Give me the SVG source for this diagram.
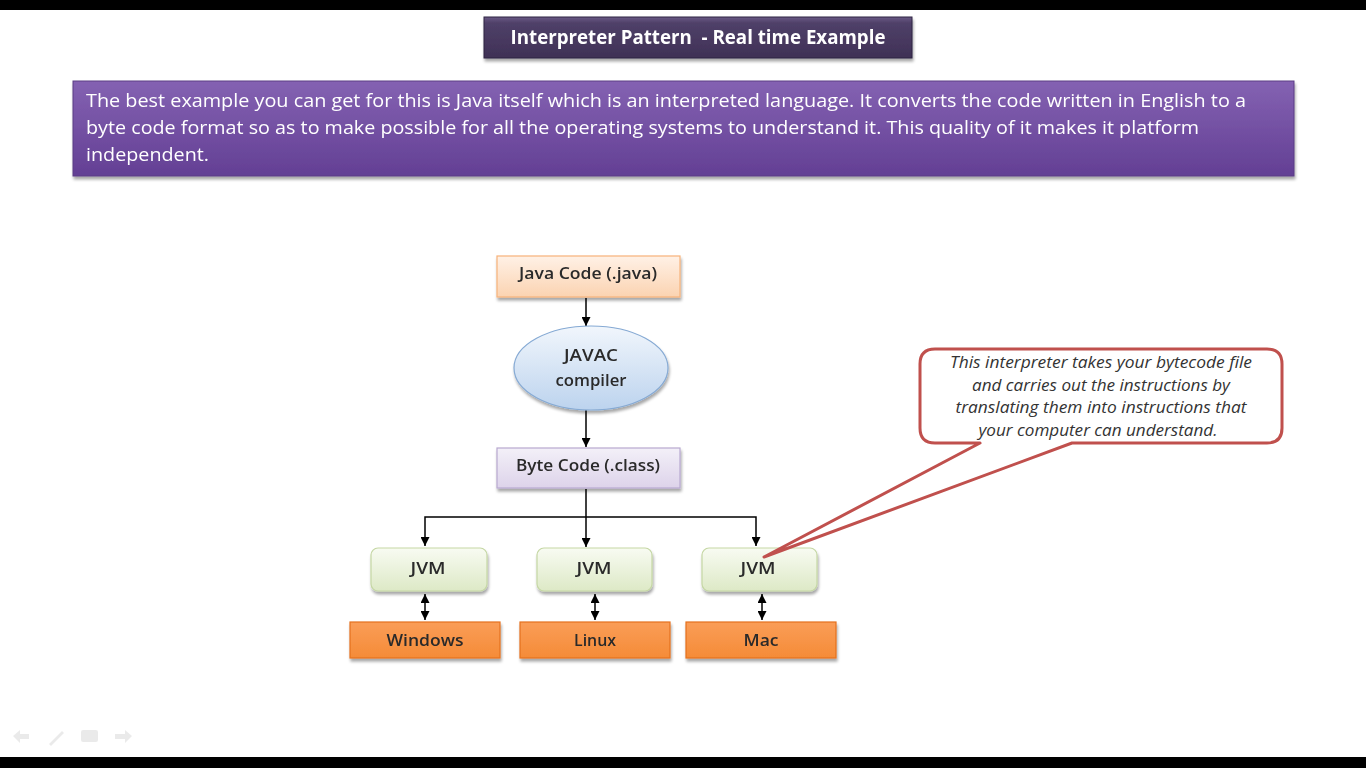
<svg xmlns="http://www.w3.org/2000/svg" width="1366" height="768" viewBox="0 0 1366 768">
<defs>
<linearGradient id="gTitle" x1="0" y1="0" x2="0" y2="1"><stop offset="0" stop-color="#6a5a86"/><stop offset="0.15" stop-color="#4f4068"/><stop offset="1" stop-color="#3f3156"/></linearGradient>
<linearGradient id="gPara" x1="0" y1="0" x2="0" y2="1"><stop offset="0" stop-color="#8462b2"/><stop offset="1" stop-color="#633f94"/></linearGradient>
<linearGradient id="gPeach" x1="0" y1="0" x2="0" y2="1"><stop offset="0" stop-color="#fff1e6"/><stop offset="1" stop-color="#fbd3b1"/></linearGradient>
<linearGradient id="gLav" x1="0" y1="0" x2="0" y2="1"><stop offset="0" stop-color="#f3f0f8"/><stop offset="1" stop-color="#ddd3ea"/></linearGradient>
<linearGradient id="gBlue" x1="0" y1="0" x2="0" y2="1"><stop offset="0" stop-color="#f1f6fc"/><stop offset="1" stop-color="#bcd3ee"/></linearGradient>
<linearGradient id="gGreen" x1="0" y1="0" x2="0" y2="1"><stop offset="0" stop-color="#f8fbf2"/><stop offset="1" stop-color="#dde9c6"/></linearGradient>
<linearGradient id="gOrange" x1="0" y1="0" x2="0" y2="1"><stop offset="0" stop-color="#fa9d58"/><stop offset="1" stop-color="#f58b37"/></linearGradient>
<filter id="sh" x="-10%" y="-20%" width="120%" height="150%"><feGaussianBlur in="SourceAlpha" stdDeviation="1.6"/><feOffset dx="1" dy="2.5"/><feComponentTransfer><feFuncA type="linear" slope="0.35"/></feComponentTransfer><feMerge><feMergeNode/><feMergeNode in="SourceGraphic"/></feMerge></filter>
<marker id="ah" viewBox="0 0 10 10" refX="10" refY="5" markerWidth="9" markerHeight="9" markerUnits="userSpaceOnUse" orient="auto-start-reverse"><path d="M0,0 L10,5 L0,10 z" fill="#000"/></marker>
</defs>
<style>
.box{font-family:"Open Sans","Noto Sans",sans-serif;font-weight:600;font-size:16px;fill:#2a2a2a;text-anchor:middle}
.con{stroke:#000;stroke-width:1.5;fill:none}
.call{font-family:"Open Sans","Noto Sans",sans-serif;font-style:italic;font-size:16px;fill:#333;text-anchor:middle}
.para{font-family:"Open Sans","Noto Sans",sans-serif;font-size:19px;fill:#fff}
</style>
<rect width="1366" height="768" fill="#fff"/>
<rect x="0" y="0" width="1366" height="10" fill="#000"/>
<rect x="0" y="757" width="1366" height="11" fill="#000"/>

<g id="title" filter="url(#sh)">
<rect x="484" y="17" width="428" height="41" fill="url(#gTitle)" stroke="#2e2440" stroke-width="1"/>
<text x="698" y="44" font-family="'Open Sans','Noto Sans',sans-serif" font-weight="700" font-size="19" fill="#fff" text-anchor="middle" textLength="375" lengthAdjust="spacingAndGlyphs" xml:space="preserve">Interpreter Pattern  - Real time Example</text>
</g>

<g id="description" filter="url(#sh)">
<rect x="73" y="81" width="1221" height="95" fill="url(#gPara)" stroke="#5a3d84" stroke-width="1"/>
<text class="para" x="86" y="107" textLength="1160" lengthAdjust="spacingAndGlyphs">The best example you can get for this is Java itself which is an interpreted language. It converts the code written in English to a</text>
<text class="para" x="86" y="134" textLength="1113" lengthAdjust="spacingAndGlyphs">byte code format so as to make possible for all the operating systems to understand it. This quality of it makes it platform</text>
<text class="para" x="86" y="161" textLength="123" lengthAdjust="spacingAndGlyphs">independent.</text>
</g>

<g id="connectors">
<line class="con" x1="586" y1="298" x2="586" y2="326" marker-end="url(#ah)"/>
<line class="con" x1="586" y1="410" x2="586" y2="447" marker-end="url(#ah)"/>
<line class="con" x1="586" y1="489" x2="586" y2="547" marker-end="url(#ah)"/>
<polyline class="con" points="425,546 425,517 756,517 756,546" marker-start="url(#ah)" marker-end="url(#ah)"/>
<line class="con" x1="425" y1="594" x2="425" y2="620" marker-start="url(#ah)" marker-end="url(#ah)"/>
<line class="con" x1="595" y1="594" x2="595" y2="620" marker-start="url(#ah)" marker-end="url(#ah)"/>
<line class="con" x1="762" y1="594" x2="762" y2="620" marker-start="url(#ah)" marker-end="url(#ah)"/>
</g>

<g id="java-code" filter="url(#sh)">
<rect x="497" y="256" width="183" height="41" fill="url(#gPeach)" stroke="#f7b27a" stroke-width="1.2"/>
<text class="box" x="588" y="279" textLength="138" lengthAdjust="spacingAndGlyphs">Java Code (.java)</text>
</g>

<g id="javac" filter="url(#sh)">
<ellipse cx="591" cy="368" rx="77" ry="42" fill="url(#gBlue)" stroke="#86aad4" stroke-width="1.2"/>
<text class="box" x="591" y="361" textLength="54" lengthAdjust="spacingAndGlyphs">JAVAC</text>
<text class="box" x="591" y="386" textLength="71" lengthAdjust="spacingAndGlyphs">compiler</text>
</g>

<g id="byte-code" filter="url(#sh)">
<rect x="497" y="448" width="183" height="40" fill="url(#gLav)" stroke="#b8a8d0" stroke-width="1.2"/>
<text class="box" x="588" y="471" textLength="144" lengthAdjust="spacingAndGlyphs">Byte Code (.class)</text>
</g>

<g id="jvm-windows" filter="url(#sh)">
<rect x="371" y="548" width="116" height="43" rx="7" fill="url(#gGreen)" stroke="#c5d7a4" stroke-width="1.2"/>
<text class="box" x="428" y="574" textLength="35" lengthAdjust="spacingAndGlyphs">JVM</text>
</g>
<g id="jvm-linux" filter="url(#sh)">
<rect x="537" y="548" width="115" height="43" rx="7" fill="url(#gGreen)" stroke="#c5d7a4" stroke-width="1.2"/>
<text class="box" x="594" y="574" textLength="35" lengthAdjust="spacingAndGlyphs">JVM</text>
</g>
<g id="jvm-mac" filter="url(#sh)">
<rect x="702" y="548" width="115" height="43" rx="7" fill="url(#gGreen)" stroke="#c5d7a4" stroke-width="1.2"/>
<text class="box" x="758" y="574" textLength="35" lengthAdjust="spacingAndGlyphs">JVM</text>
</g>

<g id="windows" filter="url(#sh)">
<rect x="350" y="622" width="150" height="36" fill="url(#gOrange)" stroke="#e5711d" stroke-width="1.2"/>
<text class="box" x="425" y="646" textLength="77" lengthAdjust="spacingAndGlyphs">Windows</text>
</g>
<g id="linux" filter="url(#sh)">
<rect x="520" y="622" width="150" height="36" fill="url(#gOrange)" stroke="#e5711d" stroke-width="1.2"/>
<text class="box" x="595" y="646" textLength="42" lengthAdjust="spacingAndGlyphs">Linux</text>
</g>
<g id="mac" filter="url(#sh)">
<rect x="686" y="622" width="150" height="36" fill="url(#gOrange)" stroke="#e5711d" stroke-width="1.2"/>
<text class="box" x="761" y="646" textLength="35" lengthAdjust="spacingAndGlyphs">Mac</text>
</g>

<g id="callout">
<path d="M935,349 H1267 Q1282,349 1282,364 V428 Q1282,443 1267,443 H1072 L764,557 L980,443 H935 Q920,443 920,428 V364 Q920,349 935,349 Z" fill="#fff" stroke="#c0504d" stroke-width="3" stroke-linejoin="round"/>
<text class="call" x="1101" y="368" textLength="302" lengthAdjust="spacingAndGlyphs">This interpreter takes your bytecode file</text>
<text class="call" x="1101" y="391" textLength="258" lengthAdjust="spacingAndGlyphs">and carries out the instructions by</text>
<text class="call" x="1101" y="413" textLength="291" lengthAdjust="spacingAndGlyphs">translating them into instructions that</text>
<text class="call" x="1098" y="436" textLength="239" lengthAdjust="spacingAndGlyphs">your computer can understand.</text>
</g>

<g id="nav" fill="#e6e6e6" opacity="0.8">
<path d="M13,736 L20,730 V734 H29 V739 H20 V743 Z"/>
<path d="M49,744 L62,731 L64,733 L51,746 Z"/>
<rect x="81" y="730" width="17" height="12" rx="2"/>
<path d="M132,736 L125,730 V734 H115 V739 H125 V743 Z"/>
</g>
</svg>
